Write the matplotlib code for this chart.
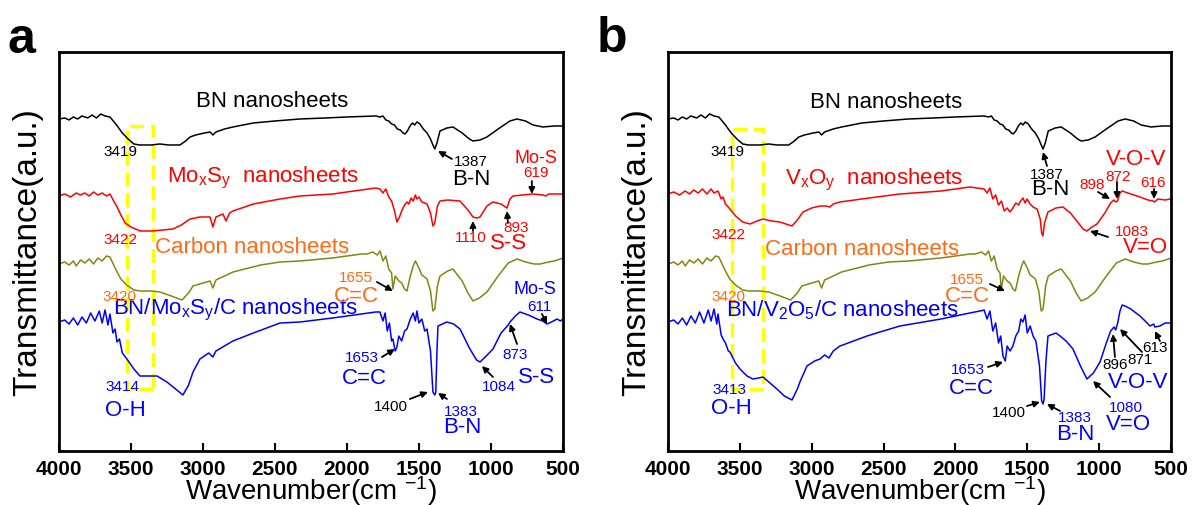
import numpy as np
import matplotlib
matplotlib.use('Agg')
import matplotlib.pyplot as plt
from matplotlib.patches import Rectangle

plt.rcParams['font.family'] = ['Liberation Sans', 'DejaVu Sans']
plt.rcParams['mathtext.fontset'] = 'custom'
plt.rcParams['mathtext.rm'] = 'Liberation Sans'
plt.rcParams['mathtext.it'] = 'Liberation Sans:italic'

red = '#FF0000'
blue = '#0000FF'
olive = '#858515'
orange = '#FF6A13'

xticks = [4000, 3500, 3000, 2500, 2000, 1500, 1000, 500]

# spectra: (wavenumber, transmittance a.u.)
bn = [(4000,332),(3960,333),(3930,331),(3900,334),(3870,332),(3840,335),(3800,333),(3770,336),
      (3740,333),(3710,337),(3680,335),(3646,334),(3600,326),(3560,318),(3520,312),(3480,307),
      (3440,306),(3360,306),(3300,307),(3240,306),(3160,306),(3120,310),(3090,314),(3050,316),
      (2990,318),(2950,319),(2931,316),(2910,319),(2850,322),(2792,324),(2650,328),(2500,330),
      (2326,332),(2150,333),(2000,334),(1800,335),(1770,334),(1750,335),(1730,331),(1710,330),
      (1690,327),(1670,326),(1650,322),(1630,321),(1610,318),(1597,317),(1580,320),(1562,325),
      (1545,328),(1530,326),(1514,329),(1493,327),(1470,322),(1444,318),(1420,312),(1403,306),
      (1390,302),(1375,308),(1354,320),(1306,323),(1264,324),(1200,318),(1150,312),(1125,310),
      (1076,311),(1028,314),(950,322),(868,330),(819,332),(760,330),(708,326),(639,324),
      (560,325),(500,325)]

mos = [(4000,255),(3960,257),(3920,254),(3880,258),(3850,256),(3820,258),(3790,255),(3760,259),
       (3730,256),(3700,258),(3670,255),(3646,257),(3620,250),(3600,245),(3570,236),(3540,228),
       (3500,224),(3437,220),(3350,220),(3280,221),(3208,222),(3150,226),(3090,232),(3021,234),
       (2951,234),(2931,224),(2910,234),(2861,237),(2840,230),(2815,238),(2792,240),(2650,247),
       (2465,252),(2326,255),(2100,257),(1900,261),(1800,263),(1771,262),(1750,258),(1730,262),
       (1710,254),(1690,250),(1670,240),(1653,229),(1635,234),(1620,240),(1600,246),(1583,249),
       (1570,247),(1555,253),(1540,250),(1525,256),(1514,252),(1500,254),(1480,249),(1460,248),
       (1444,247),(1420,238),(1403,225),(1390,228),(1372,245),(1354,250),(1300,251),(1215,250),
       (1160,241),(1125,234),(1100,233),(1076,234),(1050,240),(1028,245),(986,249),(930,247),
       (900,244),(889,243),(868,252),(847,255),(780,256),(708,257),(640,256),(619,255),
       (600,257),(500,257)]

carbon = [(4000,187),(3960,189),(3930,186),(3900,190),(3880,185),(3850,191),(3820,188),(3790,192),
          (3760,187),(3730,193),(3700,190),(3670,195),(3646,194),(3620,186),(3600,180),(3570,172),
          (3530,166),(3480,161),(3437,160),(3360,160),(3299,159),(3220,155),(3146,151),(3100,158),
          (3069,165),(3000,168),(2951,170),(2931,163),(2910,171),(2850,175),(2792,179),(2600,186),
          (2465,189),(2326,190),(2100,193),(1900,197),(1861,197),(1820,199),(1790,196),(1770,200),
          (1750,190),(1730,195),(1710,182),(1690,178),(1681,162),(1665,175),(1640,170),(1620,168),
          (1600,162),(1583,160),(1560,175),(1540,185),(1525,190),(1514,187),(1500,183),(1480,176),
          (1460,174),(1444,172),(1420,160),(1403,140),(1390,142),(1372,165),(1354,175),(1300,180),
          (1264,182),(1200,170),(1160,158),(1125,150),(1080,153),(1028,159),(950,175),(880,188),
          (819,192),(760,189),(700,187),(660,187),(600,189),(560,190),(518,192),(500,193)]

bn_mos_c = [(4000,129),(3960,131),(3930,127),(3900,133),(3870,126),(3840,134),(3810,128),(3780,138),
            (3750,130),(3720,140),(3700,128),(3680,141),(3660,126),(3646,137),(3625,118),(3610,122),
            (3597,109),(3580,112),(3560,98),(3528,92),(3480,82),(3437,75),(3380,75),(3319,75),
            (3250,69),(3190,62),(3139,56),(3100,66),(3069,79),(3021,92),(2960,98),(2931,94),
            (2910,100),(2792,110),(2650,118),(2465,128),(2326,129),(2100,133),(1900,137),(1800,139),
            (1771,139),(1750,130),(1735,138),(1720,120),(1705,128),(1690,110),(1681,112),(1665,100),
            (1653,104),(1640,115),(1620,110),(1600,120),(1583,122),(1560,132),(1540,138),(1525,130),
            (1514,140),(1500,128),(1480,132),(1460,120),(1444,122),(1420,100),(1403,59),(1390,56),
            (1383,59),(1375,100),(1368,125),(1306,129),(1260,127),(1215,122),(1150,103),(1100,91),
            (1076,89),(1040,94),(986,102),(930,118),(880,126),(868,129),(830,135),(799,139),
            (740,136),(680,132),(640,130),(611,127),(580,129),(540,132),(518,130),(500,132)]

vxoy = [(4000,257),(3960,259),(3920,256),(3880,260),(3850,257),(3820,261),(3790,258),(3760,262),
        (3730,257),(3700,262),(3680,258),(3652,260),(3630,252),(3617,254),(3600,247),(3569,242),
        (3530,235),(3480,229),(3429,227),(3380,230),(3339,232),(3280,230),(3221,229),(3180,227),
        (3137,225),(3100,231),(3061,239),(3000,243),(2942,245),(2900,245),(2873,244),(2850,247),
        (2803,249),(2600,253),(2386,257),(2100,260),(1900,264),(1850,263),(1800,262),(1780,258),
        (1760,263),(1740,252),(1720,256),(1700,246),(1680,250),(1660,240),(1640,243),(1620,239),
        (1600,243),(1580,248),(1560,246),(1551,249),(1530,253),(1515,248),(1502,252),(1480,247),
        (1460,244),(1432,242),(1410,232),(1400,218),(1391,215),(1380,228),(1356,239),(1300,243),
        (1252,244),(1200,238),(1150,229),(1112,222),(1085,220),(1050,224),(1015,227),(960,238),
        (920,248),(898,251),(885,249),(872,250),(855,258),(840,260),(780,257),(716,254),
        (660,251),(625,250),(616,249),(590,252),(540,251),(506,252),(500,253)]

bn_v2o5_c = [(4000,129),(3960,131),(3930,127),(3900,133),(3870,126),(3840,135),(3810,128),(3780,139),
             (3750,128),(3720,141),(3700,130),(3680,142),(3660,127),(3652,137),(3630,116),(3617,112),
             (3600,108),(3580,100),(3569,99),(3530,88),(3499,82),(3450,75),(3409,72),(3370,73),
             (3339,74),(3290,68),(3242,62),(3190,55),(3137,51),(3100,62),(3082,69),(3033,85),
             (2980,90),(2942,92),(2910,96),(2880,93),(2850,100),(2803,105),(2615,115),(2525,119),
             (2386,125),(2100,132),(1900,138),(1829,140),(1800,141),(1780,132),(1760,140),(1740,120),
             (1720,128),(1700,108),(1685,115),(1669,95),(1653,90),(1640,105),(1620,100),(1600,105),
             (1580,115),(1560,120),(1545,132),(1530,129),(1515,136),(1500,118),(1480,125),(1460,115),
             (1440,110),(1415,85),(1400,50),(1390,47),(1383,52),(1370,90),(1356,115),(1300,118),
             (1272,115),(1230,110),(1182,102),(1130,85),(1085,72),(1040,78),(994,89),(950,108),
             (920,120),(896,124),(885,121),(871,128),(855,140),(840,146),(820,145),(780,142),
             (716,135),(680,130),(646,125),(620,127),(613,124),(577,125),(540,128),(506,128),(500,129)]

# (text, wavenumber, y, color, size, ha)
labels_a = [
    ('BN nanosheets', 3049, 350, 'k', 16, 'left'),
    ('Mo$_\\mathregular{x}$S$_\\mathregular{y}$  nanosheets', 3250, 274, red, 16, 'left'),
    ('Carbon nanosheets', 3333, 204, orange, 16, 'left'),
    ('BN/Mo$_\\mathregular{x}$S$_\\mathregular{y}$/C nanosheets', 3625, 142, blue, 16, 'left'),
    ('3419', 3576, 300, 'k', 11, 'center'),
    ('1387', 1139, 290, 'k', 11, 'center'),
    ('B-N', 1139, 272, 'k', 16, 'center'),
    ('Mo-S', 688, 293, red, 13, 'center'),
    ('619', 688, 279, red, 11, 'center'),
    ('1110', 1140, 214, red, 11, 'center'),
    ('893', 826, 224, red, 11, 'center'),
    ('S-S', 875, 208, red, 16, 'center'),
    ('3422', 3576, 212, red, 11, 'center'),
    ('1655', 1938, 174, orange, 11, 'center'),
    ('C=C', 1938, 155, orange, 16, 'center'),
    ('3420', 3583, 155, orange, 11, 'center'),
    ('3414', 3556, 65, blue, 11, 'center'),
    ('O-H', 3542, 42, blue, 16, 'center'),
    ('1653', 1896, 94, blue, 11, 'center'),
    ('C=C', 1882, 74, blue, 16, 'center'),
    ('1400', 1695, 45, 'k', 11, 'center'),
    ('1383', 1208, 40, blue, 11, 'center'),
    ('B-N', 1201, 25, blue, 16, 'center'),
    ('1084', 944, 65, blue, 11, 'center'),
    ('873', 833, 97, blue, 11, 'center'),
    ('S-S', 681, 75, blue, 16, 'center'),
    ('Mo-S', 695, 162, blue, 13, 'center'),
    ('611', 660, 145, blue, 11, 'center'),
]
# (tail wn, tail y, head wn, head y)
arrows_a = [
    (1271, 292, 1368, 300), (716, 270, 716, 257), (1125, 220, 1125, 230),
    (882, 228, 889, 240), (1792, 169, 1681, 160), (1757, 94, 1667, 102),
    (1563, 52, 1438, 59), (1306, 52, 1368, 58), (986, 74, 1063, 85),
    (819, 107, 868, 127), (646, 137, 611, 127),
]
box_a = (3528, 3347, 62, 325)

labels_b = [
    ('BN nanosheets', 3012, 349, 'k', 16, 'left'),
    ('V$_\\mathregular{x}$O$_\\mathregular{y}$  nanosheets', 3186, 272, red, 16, 'left'),
    ('Carbon nanosheets', 3325, 202, orange, 16, 'left'),
    ('BN/V$_\\mathregular{2}$O$_\\mathregular{5}$/C nanosheets', 3596, 142, blue, 16, 'left'),
    ('3419', 3589, 300, 'k', 11, 'center'),
    ('1387', 1363, 277, 'k', 11, 'center'),
    ('B-N', 1342, 262, 'k', 16, 'center'),
    ('3422', 3576, 217, red, 11, 'center'),
    ('V-O-V', 744, 292, red, 16, 'center'),
    ('898', 1050, 267, red, 11, 'center'),
    ('872', 869, 275, red, 11, 'center'),
    ('616', 625, 269, red, 11, 'center'),
    ('1083', 771, 220, red, 11, 'center'),
    ('V=O', 681, 204, red, 16, 'center'),
    ('1655', 1920, 172, orange, 11, 'center'),
    ('C=C', 1920, 155, orange, 16, 'center'),
    ('3420', 3576, 155, orange, 11, 'center'),
    ('3413', 3569, 62, blue, 11, 'center'),
    ('O-H', 3562, 44, blue, 16, 'center'),
    ('1653', 1913, 82, blue, 11, 'center'),
    ('C=C', 1892, 64, blue, 16, 'center'),
    ('1400', 1627, 39, 'k', 11, 'center'),
    ('1383', 1168, 34, blue, 11, 'center'),
    ('B-N', 1168, 18, blue, 16, 'center'),
    ('1080', 813, 44, blue, 11, 'center'),
    ('V=O', 799, 28, blue, 16, 'center'),
    ('896', 890, 87, 'k', 11, 'center'),
    ('871', 716, 92, 'k', 11, 'center'),
    ('613', 611, 104, 'k', 11, 'center'),
    ('V-O-V', 730, 70, blue, 16, 'center'),
]
arrows_b = [
    (1363, 285, 1391, 299), (1008, 259, 924, 252), (876, 269, 876, 252),
    (618, 262, 618, 252), (938, 214, 1064, 220), (1760, 167, 1655, 160),
    (1773, 84, 1669, 89), (1502, 45, 1412, 49), (1272, 40, 1363, 47),
    (924, 54, 1043, 70), (890, 94, 904, 117), (702, 99, 855, 122),
    (577, 110, 611, 120),
]
box_b = (3555, 3339, 62, 322)


def draw(ax, curves, labels, arrows, box):
    for data, c in curves:
        d = np.array(data)
        ax.plot(d[:, 0], d[:, 1], color=c, lw=1.1)
    for t, x, y, c, s, ha in labels:
        ax.text(x, y, t, color=c, fontsize=s, ha=ha, va='center')
    for x0, y0, x1, y1 in arrows:
        ax.annotate('', xy=(x1, y1), xytext=(x0, y0),
                    arrowprops=dict(arrowstyle='-|>', color='k', lw=1.3,
                                    mutation_scale=9, shrinkA=0, shrinkB=0))
    x0, x1, y0, y1 = box
    ax.add_patch(Rectangle((x1, y0), x0 - x1, y1 - y0, fill=False,
                           edgecolor='#FFFF00', lw=2.5, ls=(0, (4, 2))))
    ax.set_xlim(4000, 500)
    ax.set_ylim(0, 399)
    ax.set_xticks(xticks)
    ax.set_yticks([])
    ax.tick_params(axis='x', direction='in', length=6, width=1.5, pad=6, labelsize=15)
    for lab in ax.get_xticklabels():
        lab.set_fontweight('bold')
    for s in ax.spines.values():
        s.set_linewidth(2)
    ax.set_xlabel('Wavenumber(cm $^{\\mathregular{-1}}$)', fontsize=20, labelpad=-4)
    ax.set_ylabel('Transmittance(a.u.)', fontsize=24, labelpad=11)


fig = plt.figure(figsize=(11.96, 5.06), dpi=100)
axa = fig.add_axes([0.0493, 0.1067, 0.4214, 0.7886])
axb = fig.add_axes([0.5585, 0.1067, 0.4206, 0.7886])

draw(axa, [(bn, 'k'), (mos, red), (carbon, olive), (bn_mos_c, blue)], labels_a, arrows_a, box_a)
draw(axb, [(bn, 'k'), (vxoy, red), (carbon, olive), (bn_v2o5_c, blue)], labels_b, arrows_b, box_b)

fig.text(0.006, 0.895, 'a', fontsize=36, fontweight='bold', va='baseline')
fig.text(0.499, 0.897, 'b', fontsize=36, fontweight='bold', va='baseline')

fig.savefig('out.png', dpi=100)
